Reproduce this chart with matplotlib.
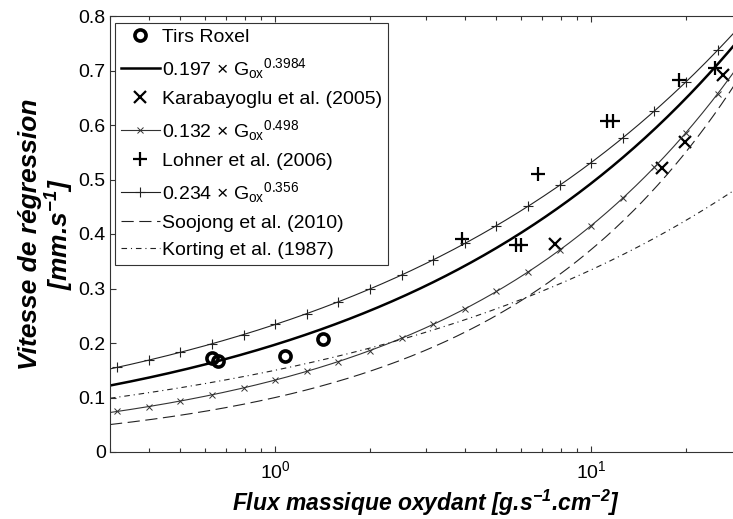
import numpy as np
import matplotlib.pyplot as plt

plt.rcParams['font.family'] = 'Liberation Sans'
plt.rcParams['mathtext.fontset'] = 'custom'
plt.rcParams['mathtext.rm'] = 'Liberation Sans'
plt.rcParams['mathtext.it'] = 'Liberation Sans:italic'
plt.rcParams['mathtext.bf'] = 'Liberation Sans:bold:italic'

# measured regression rates (mm/s) vs oxidizer mass flux (g/s/cm2)
roxel_g = [0.63, 0.66, 1.07, 1.42]
roxel_r = [0.173, 0.167, 0.176, 0.208]

kara_g = [7.67, 16.7, 19.8, 26.1]
kara_r = [0.381, 0.522, 0.568, 0.692]

lohner_g = [3.9, 5.8, 6.0, 6.8, 11.2, 11.7, 18.9, 24.6]
lohner_r = [0.39, 0.38, 0.38, 0.51, 0.608, 0.608, 0.683, 0.704]

# power laws r = a * G^n
law_names = ['roxel', 'kara', 'lohner', 'soojong', 'korting']
law_a = [0.197, 0.132, 0.234, 0.100, 0.150]
law_n = [0.3984, 0.498, 0.356, 0.57, 0.348]

g_min, g_max = 0.3, 30
g_marks = np.logspace(-0.5, 1.5, 21)
g = np.unique(np.concatenate([np.logspace(np.log10(g_min), np.log10(g_max), 400), g_marks]))
mark_idx = [int(np.argmin(abs(g - m))) for m in g_marks]

def law(i):
    return law_a[i] * g ** law_n[i]

fig = plt.figure(figsize=(7.33, 5.19), dpi=100)
ax = fig.add_axes([110 / 733, 67 / 519, 632 / 733, 436 / 519])

ax.plot(roxel_g, roxel_r, 'o', ms=8, mfc='none', mec='black', mew=2.6, label='Tirs Roxel')
ax.plot(g, law(0), '-', color='black', lw=1.8,
        label='0.197 × G$_{\\mathregular{ox}}$$^{\\mathregular{0.3984}}$')
ax.plot(kara_g, kara_r, 'x', ms=8, color='black', mew=1.6, label='Karabayoglu et al. (2005)')
ax.plot(g, law(1), '-', color='#333333', lw=0.8, marker='x', ms=5, mew=0.7,
        markevery=mark_idx, label='0.132 × G$_{\\mathregular{ox}}$$^{\\mathregular{0.498}}$')
ax.plot(lohner_g, lohner_r, '+', ms=10, color='black', mew=1.6, label='Lohner et al. (2006)')
ax.plot(g, law(2), '-', color='#222222', lw=0.8, marker='+', ms=7, mew=0.8,
        markevery=mark_idx, label='0.234 × G$_{\\mathregular{ox}}$$^{\\mathregular{0.356}}$')
ax.plot(g, law(3), color='#222222', lw=0.8, dashes=(11, 5), label='Soojong et al. (2010)')
ax.plot(g, law(4), color='#222222', lw=0.8, dashes=(5, 3.5, 1, 3.5), label='Korting et al. (1987)')

ax.set_xscale('log')
ax.set_xlim(g_min, g_max)
ax.set_ylim(0, 0.8)
ax.set_yticks(np.arange(0, 0.81, 0.1))
ax.set_yticklabels(['0', '0.1', '0.2', '0.3', '0.4', '0.5', '0.6', '0.7', '0.8'])

for s in ax.spines.values():
    s.set_color('#333333')
    s.set_linewidth(0.8)
ax.tick_params(which='both', direction='in', top=True, right=True, colors='#333333',
               labelcolor='black', labelsize=14)
ax.tick_params(which='major', length=4, width=0.8)
ax.tick_params(which='minor', length=3, width=0.8)
ax.tick_params(axis='x', pad=6)
ax.tick_params(axis='y', pad=3)

ax.set_xlabel('Flux massique oxydant [g.s$^{\\mathbf{-1}}$.cm$^{\\mathbf{-2}}$]',
              fontsize=16.5, fontweight='bold', style='italic', labelpad=4)
ax.set_ylabel('Vitesse de régression\n[mm.s$^{\\mathbf{-1}}$]',
              fontsize=19, fontweight='bold', style='italic', labelpad=2, linespacing=1.05)

leg = ax.legend(loc='upper left', bbox_to_anchor=(0.008, 0.985), fontsize=14,
                frameon=True, fancybox=False, framealpha=1, edgecolor='#333333',
                handlelength=2.0, handletextpad=0.1, labelspacing=0.5, borderpad=0.3,
                borderaxespad=0)
leg.get_frame().set_linewidth(0.8)

fig.savefig('out.png', dpi=100)
